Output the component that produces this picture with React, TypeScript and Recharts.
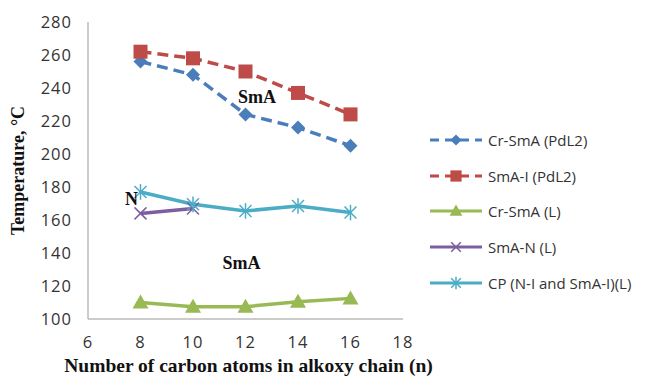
import { LineChart, Line, XAxis, YAxis, ReferenceDot } from "recharts"

const carbons = [8, 10, 12, 14, 16]
const crSmAPdL2 = [256, 248, 224, 216, 205]
const smAIPdL2 = [262, 258, 250, 237, 224]
const crSmAL = [110, 107.5, 107.5, 110.5, 112.5]
const smANL = [164, 167]
const cpL = [177, 169.5, 165.5, 168.5, 164.5]

const xTicks = [6, 8, 10, 12, 14, 16, 18]
const yTicks = [100, 120, 140, 160, 180, 200, 220, 240, 260, 280]

const data = carbons.map((n, i) => ({
    n,
    crSmAPdL2: crSmAPdL2[i],
    smAIPdL2: smAIPdL2[i],
    crSmAL: crSmAL[i],
    smANL: smANL[i],
    cpL: cpL[i],
}))

const SERIES = [
    { key: "crSmAPdL2", name: "Cr-SmA (PdL2)", color: "#4a7ebb", marker: "diamond", dash: "11 6" },
    { key: "smAIPdL2", name: "SmA-I (PdL2)", color: "#be4b48", marker: "square", dash: "11 6" },
    { key: "crSmAL", name: "Cr-SmA (L)", color: "#98b954", marker: "triangle", dash: undefined },
    { key: "smANL", name: "SmA-N (L)", color: "#7d5fa0", marker: "x", dash: undefined },
    { key: "cpL", name: "CP (N-I and SmA-I)(L)", color: "#4bacc6", marker: "star", dash: undefined },
]

function Marker({ type, cx, cy, color, s = 1 }: { type: string, cx: number, cy: number, color: string, s?: number }) {
    if (cx == null || cy == null || isNaN(cx) || isNaN(cy)) return null
    if (type === "diamond") {
        const d = 7 * s
        return <polygon points={`${cx},${cy - d} ${cx + d},${cy} ${cx},${cy + d} ${cx - d},${cy}`} fill={color} />
    }
    if (type === "square") {
        const h = 7 * s
        return <rect x={cx - h} y={cy - h} width={2 * h} height={2 * h} fill={color} />
    }
    if (type === "triangle") {
        const h = 8 * s
        return <polygon points={`${cx},${cy - h} ${cx + h},${cy + h * 0.75} ${cx - h},${cy + h * 0.75}`} fill={color} />
    }
    const r = 6 * s
    if (type === "x") {
        return (
            <g stroke={color} strokeWidth={1.5}>
                <line x1={cx - r} y1={cy - r} x2={cx + r} y2={cy + r} />
                <line x1={cx - r} y1={cy + r} x2={cx + r} y2={cy - r} />
            </g>
        )
    }
    return (
        <g stroke={color} strokeWidth={1.5}>
            <line x1={cx - r} y1={cy - r} x2={cx + r} y2={cy + r} />
            <line x1={cx - r} y1={cy + r} x2={cx + r} y2={cy - r} />
            <line x1={cx} y1={cy - r * 1.3} x2={cx} y2={cy + r * 1.3} />
        </g>
    )
}

function LegendBox() {
    return (
        <div style={{ position: "absolute", left: 428, top: 122, fontFamily: "'Open Sans', sans-serif", fontSize: 15, color: "#333" }}>
            {SERIES.map(s => (
                <div key={s.key} style={{ display: "flex", alignItems: "center", height: 35.8 }}>
                    <svg width={56} height={20}>
                        <line x1={2} y1={10} x2={54} y2={10} stroke={s.color} strokeWidth={3}
                            strokeDasharray={s.dash ? "9 6" : undefined} />
                        <Marker type={s.marker} cx={28} cy={10} color={s.color} s={0.8} />
                    </svg>
                    <span style={{ marginLeft: 4 }}>{s.name}</span>
                </div>
            ))}
        </div>
    )
}

const annoStyle = { fontFamily: "'Liberation Serif', serif", fontWeight: 700, fontSize: 18, fill: "#111" }
const tickStyle = { fill: "#333", fontSize: 16.5, fontFamily: "'Open Sans', sans-serif", letterSpacing: 1 }

export default function App() {
    return (
        <div style={{ position: "absolute", left: 0, top: 0, width: 654, height: 382, background: "#fff" }}>
            <LineChart width={654} height={382} data={data} margin={{ top: 22, right: 251, left: 28, bottom: 33 }}>
                <XAxis dataKey="n" type="number" domain={[6, 18]} ticks={xTicks} interval={0} height={30}
                    stroke="#999" tickLine={false} tickMargin={11} tick={tickStyle}
                    label={{ value: "Number of carbon atoms in alkoxy chain (n)", position: "bottom", offset: 9, dx: 3,
                        style: { fontFamily: "'Liberation Serif', serif", fontWeight: 700, fontSize: 19.5, fill: "#111" } }} />
                <YAxis type="number" domain={[100, 280]} ticks={yTicks} interval={0} width={60}
                    stroke="#999" tickLine={false} tickMargin={10} tick={tickStyle}
                    label={{ value: "Temperature, °C", angle: -90, position: "insideLeft", offset: -10,
                        style: { textAnchor: "middle", fontFamily: "'Liberation Serif', serif", fontWeight: 700, fontSize: 18, fill: "#111" } }} />
                {SERIES.map(s => (
                    <Line key={s.key} dataKey={s.key} name={s.name} stroke={s.color} strokeWidth={3.5}
                        strokeDasharray={s.dash} isAnimationActive={false} connectNulls={false}
                        dot={(p: any) => <Marker key={`${s.key}-${p.index}`} type={s.marker} cx={p.cx} cy={p.cy} color={s.color} />}
                        activeDot={false} />
                ))}
                <ReferenceDot x={12.44} y={234.5} r={0} fill="none" stroke="none"
                    label={{ value: "SmA", position: "center", style: annoStyle }} />
                <ReferenceDot x={7.66} y={172.7} r={0} fill="none" stroke="none"
                    label={{ value: "N", position: "center", style: annoStyle }} />
                <ReferenceDot x={11.85} y={134} r={0} fill="none" stroke="none"
                    label={{ value: "SmA", position: "center", style: annoStyle }} />
            </LineChart>
            <LegendBox />
        </div>
    )
}
